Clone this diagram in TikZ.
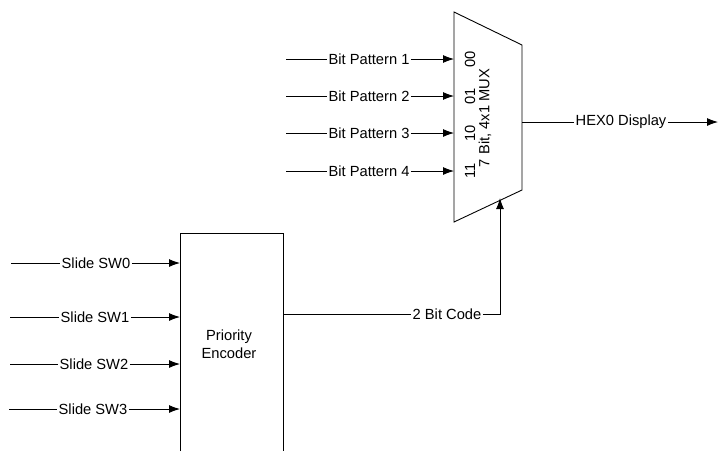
\documentclass[tikz,border=0pt]{standalone}
\usepackage{fontspec}
\setmainfont{Liberation Sans}
\usetikzlibrary{arrows.meta}
\begin{document}
\begin{tikzpicture}[x=1pt,y=-1pt, line width=0.9pt,
  lbl/.style={inner sep=1pt, font=\fontsize{14.7}{18}\selectfont},
  arr/.style={-{Latex[length=11pt,width=8pt]}}]
\useasboundingbox (0,0) rectangle (719,451);
% MUX
\coordinate (mtl) at (454,12);
\coordinate (mtr) at (522,45);
\coordinate (mbr) at (522,190);
\coordinate (mbl) at (454,222);
\draw (mtl) -- (mtr) -- (mbr) -- (mbl) -- cycle;
\node[lbl, rotate=90] (muxlbl) at (485,118) {7 Bit, 4x1 MUX};
% bit pattern inputs
\foreach \i/\y/\s in {1/59/00, 2/96/01, 3/133/10, 4/171/11} {
  \coordinate (bs\i) at (286,\y);
  \node[lbl] (bp\i) at (369,\y) {Bit Pattern \i};
  \coordinate (bi\i) at (454,\y);
  \draw (bs\i) -- (bp\i);
  \draw[arr] (bp\i) -- (bi\i);
  \node[lbl, rotate=90] (sel\i) at (470,\y) {\s};
}
% output
\coordinate (mo) at (522,122);
\node[lbl] (hex) at (621,122) {HEX0 Display};
\coordinate (he) at (718,122);
\draw (mo) -- (hex);
\draw[arr] (hex) -- (he);
% priority encoder
\coordinate (pbl) at (180,451);
\coordinate (ptl) at (180,233);
\coordinate (ptr) at (283,233);
\coordinate (pbr) at (283,451);
\draw (pbl) -- (ptl) -- (ptr) -- (pbr);
\node[lbl, align=center] (pe) at (229,344) {Priority\\Encoder};
% slide switch inputs
\foreach \i/\y/\x/\s in {0/263/96/11, 1/317/95/10, 2/364/94/10, 3/409/93/9} {
  \coordinate (ss\i) at (\s,\y);
  \node[lbl] (sw\i) at (\x,\y) {Slide SW\i};
  \coordinate (si\i) at (180,\y);
  \draw (ss\i) -- (sw\i);
  \draw[arr] (sw\i) -- (si\i);
}
% select code
\coordinate (peo) at (283,314);
\node[lbl] (code) at (447,314) {2 Bit Code};
\coordinate (cc) at (500,314);
\coordinate (msel) at (500,198);
\draw (peo) -- (code);
\draw[arr] (code) -- (cc) -- (msel);
\end{tikzpicture}
\end{document}
